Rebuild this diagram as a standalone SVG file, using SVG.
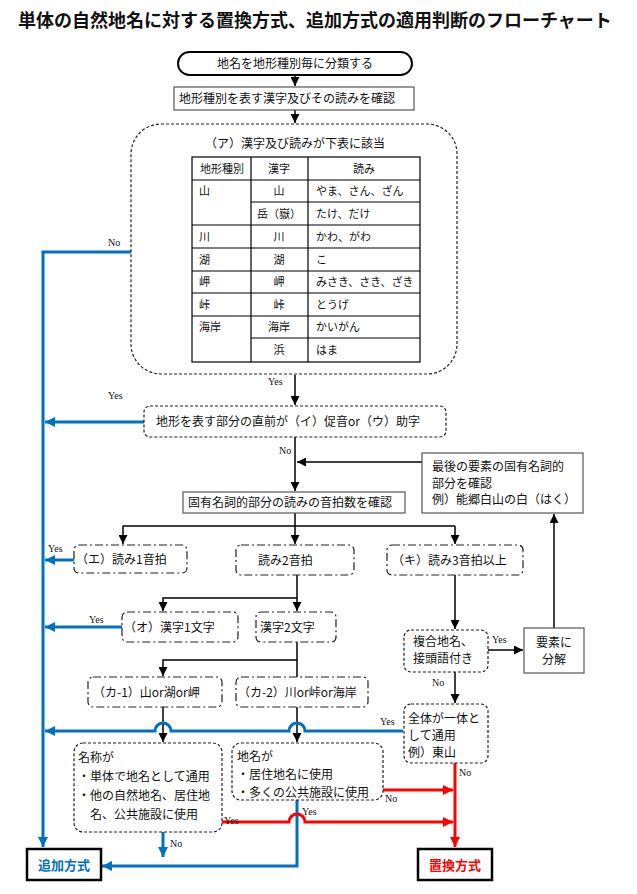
<svg xmlns="http://www.w3.org/2000/svg" width="637" height="894" viewBox="0 0 637 894">
<defs>
<style>
text{font-family:"Noto Sans CJK JP","Liberation Sans",sans-serif;fill:#111;}
.t{font-size:12px;}
.tb{font-size:11px;}
.lbl{font-family:"Liberation Serif",serif;font-size:10px;}
.title{font-size:18px;font-weight:bold;}
.box{fill:#fff;stroke:#555;stroke-width:1.2;}
.dash{fill:#fff;stroke:#222;stroke-width:1.2;stroke-dasharray:3,2;}
.dd{fill:#fff;stroke:#222;stroke-width:1.2;stroke-dasharray:8,3,2,3;}
.tbl{fill:none;stroke:#000;stroke-width:1.2;}
.k{fill:none;stroke:#000;stroke-width:1.5;}
.b{fill:none;stroke:#0070C0;stroke-width:3;}
.r{fill:none;stroke:#FF0000;stroke-width:3;}
.fin{fill:#fff;stroke:#000;stroke-width:2.5;}
</style>
<marker id="ak" viewBox="0 0 10 10" refX="10" refY="5" markerWidth="9" markerHeight="9" markerUnits="userSpaceOnUse" orient="auto"><path d="M0,0L10,5L0,10z" fill="#000"/></marker>
<marker id="ab" viewBox="0 0 10 10" refX="10" refY="5" markerWidth="10" markerHeight="10" markerUnits="userSpaceOnUse" orient="auto"><path d="M0,0L10,5L0,10z" fill="#0070C0"/></marker>
<marker id="ar" viewBox="0 0 10 10" refX="10" refY="5" markerWidth="10" markerHeight="10" markerUnits="userSpaceOnUse" orient="auto"><path d="M0,0L10,5L0,10z" fill="#FF0000"/></marker>
</defs>
<rect width="637" height="894" fill="#fff"/>
<text class="title" x="18" y="27">単体の自然地名に対する置換方式、追加方式の適用判断のフローチャート</text>

<g id="connectors">
<path class="k" d="M295,75V86" marker-end="url(#ak)"/>
<path class="k" d="M295,110V123" marker-end="url(#ak)"/>
<path class="k" d="M295,375V405" marker-end="url(#ak)"/>
<path class="k" d="M295,437V491" marker-end="url(#ak)"/>
<path class="k" d="M422,462H297" marker-end="url(#ak)"/>
<path class="k" d="M295,513V526"/>
<path class="k" d="M123,526H455"/>
<path class="k" d="M123,526V544" marker-end="url(#ak)"/>
<path class="k" d="M295,526V544" marker-end="url(#ak)"/>
<path class="k" d="M455,526V544" marker-end="url(#ak)"/>
<path class="k" d="M297,575V611" marker-end="url(#ak)"/>
<path class="k" d="M297,598H163V611" marker-end="url(#ak)"/>
<path class="k" d="M455,575V629" marker-end="url(#ak)"/>
<path class="k" d="M488,650H523" marker-end="url(#ak)"/>
<path class="k" d="M554,628V514" marker-end="url(#ak)"/>
<path class="k" d="M455,672V703" marker-end="url(#ak)"/>
<path class="k" d="M297,642V677"/>
<path class="k" d="M297,660H163V676" marker-end="url(#ak)"/>
<path class="k" d="M163,707V742" marker-end="url(#ak)"/>
<path class="k" d="M297,707V742" marker-end="url(#ak)"/>

<path class="b" d="M131,252H43V847" marker-end="url(#ab)"/>
<path class="b" d="M144,422H45" marker-end="url(#ab)"/>
<path class="b" d="M74,560H45" marker-end="url(#ab)"/>
<path class="b" d="M122,627H45" marker-end="url(#ab)"/>
<path class="b" d="M403,731H305A8,8 0 0 0 289,731H171A8,8 0 0 0 155,731H45" marker-end="url(#ab)"/>
<path class="b" d="M163,832V857" marker-end="url(#ab)"/>
<path class="b" d="M297,800V866H102" marker-end="url(#ab)"/>

<path class="r" d="M383,790H453" marker-end="url(#ar)"/>
<path class="r" d="M222,822H289A8,8 0 0 1 305,822H453" marker-end="url(#ar)"/>
<path class="r" d="M455,763V847" marker-end="url(#ar)"/>

<text class="lbl" x="108" y="246">No</text>
<text class="lbl" x="268" y="385">Yes</text>
<text class="lbl" x="108" y="399">Yes</text>
<text class="lbl" x="279" y="454">No</text>
<text class="lbl" x="48" y="552">Yes</text>
<text class="lbl" x="89" y="623">Yes</text>
<text class="lbl" x="492" y="643">Yes</text>
<text class="lbl" x="432" y="686">No</text>
<text class="lbl" x="380" y="725">Yes</text>
<text class="lbl" x="459" y="776">No</text>
<text class="lbl" x="385" y="802">No</text>
<text class="lbl" x="224" y="824">Yes</text>
<text class="lbl" x="302" y="815">Yes</text>
<text class="lbl" x="170" y="847">No</text>
</g>

<g id="start">
<rect x="178" y="52" width="234" height="23" rx="11.5" fill="#fff" stroke="#000" stroke-width="2"/>
<text class="t" x="295" y="68" text-anchor="middle">地名を地形種別毎に分類する</text>
</g>
<g id="check-kanji">
<rect class="box" x="174" y="87" width="240" height="23"/>
<text class="t" x="179" y="103">地形種別を表す漢字及びその読みを確認</text>
</g>
<g id="a-table">
<rect class="dash" x="131" y="124" width="326" height="250" rx="30"/>
<text class="t" x="295" y="148" text-anchor="middle">（ア）漢字及び読みが下表に該当</text>
<rect class="tbl" x="192" y="157" width="228" height="205"/>
<path class="tbl" d="M251,157V362M308,157V362M192,180H420M251,202H420M192,225H420M192,248H420M192,271H420M192,293H420M192,316H420M251,338H420"/>
<g class="tb">
<text x="200" y="173">地形種別</text><text x="279" y="173" text-anchor="middle">漢字</text><text x="364" y="173" text-anchor="middle">読み</text>
<text x="199" y="195">山</text><text x="279" y="195" text-anchor="middle">山</text><text x="316" y="195">やま、さん、ざん</text>
<text x="279" y="218" text-anchor="middle">岳（嶽）</text><text x="316" y="218">たけ、だけ</text>
<text x="199" y="241">川</text><text x="279" y="241" text-anchor="middle">川</text><text x="316" y="241">かわ、がわ</text>
<text x="199" y="264">湖</text><text x="279" y="264" text-anchor="middle">湖</text><text x="316" y="264">こ</text>
<text x="199" y="286">岬</text><text x="279" y="286" text-anchor="middle">岬</text><text x="316" y="286">みさき、さき、ざき</text>
<text x="199" y="309">峠</text><text x="279" y="309" text-anchor="middle">峠</text><text x="316" y="309">とうげ</text>
<text x="199" y="331">海岸</text><text x="279" y="331" text-anchor="middle">海岸</text><text x="316" y="331">かいがん</text>
<text x="279" y="354" text-anchor="middle">浜</text><text x="316" y="354">はま</text>
</g>
</g>
<g id="iu">
<rect class="dash" x="144" y="406" width="302" height="31" rx="6"/>
<text class="t" x="156" y="426">地形を表す部分の直前が（イ）促音or（ウ）助字</text>
</g>
<g id="last-element">
<rect class="box" x="422" y="453" width="161" height="60"/>
<text class="t" x="432" y="471">最後の要素の固有名詞的</text>
<text class="t" x="432" y="488">部分を確認</text>
<text class="t" x="432" y="504">例）能郷白山の白（はく）</text>
</g>
<g id="mora">
<rect class="box" x="183" y="492" width="222" height="21"/>
<text class="t" x="188" y="507">固有名詞的部分の読みの音拍数を確認</text>
</g>
<g id="e">
<rect class="dd" x="74" y="545" width="113" height="28" rx="5"/>
<text class="t" x="76" y="564">（エ）読み1音拍</text>
</g>
<g id="mora2">
<rect class="dd" x="236" y="545" width="118" height="30" rx="5"/>
<text class="t" x="258" y="565">読み2音拍</text>
</g>
<g id="ki">
<rect class="dd" x="387" y="545" width="136" height="30" rx="5"/>
<text class="t" x="392" y="565">（キ）読み3音拍以上</text>
</g>
<g id="o">
<rect class="dd" x="122" y="612" width="116" height="30" rx="5"/>
<text class="t" x="124" y="632">（オ）漢字1文字</text>
</g>
<g id="kanji2">
<rect class="dd" x="256" y="612" width="80" height="30" rx="5"/>
<text class="t" x="260" y="632">漢字2文字</text>
</g>
<g id="compound">
<rect class="dash" x="404" y="630" width="84" height="42" rx="7"/>
<text class="t" x="413" y="646">複合地名、</text>
<text class="t" x="413" y="663">接頭語付き</text>
</g>
<g id="decompose">
<rect class="box" x="524" y="628" width="60" height="45"/>
<text class="t" x="554" y="647" text-anchor="middle">要素に</text>
<text class="t" x="554" y="664" text-anchor="middle">分解</text>
</g>
<g id="ka1">
<rect class="dd" x="88" y="677" width="134" height="30" rx="5"/>
<text class="t" x="93" y="697">（カ-1）山or湖or岬</text>
</g>
<g id="ka2">
<rect class="dd" x="236" y="677" width="132" height="30" rx="5"/>
<text class="t" x="238" y="697">（カ-2）川or峠or海岸</text>
</g>
<g id="whole">
<rect class="dash" x="404" y="704" width="84" height="59" rx="7"/>
<text class="t" x="408" y="723">全体が一体と</text>
<text class="t" x="408" y="740">して通用</text>
<text class="t" x="408" y="757">例）東山</text>
</g>
<g id="meisho">
<rect class="dash" x="74" y="743" width="148" height="89" rx="9"/>
<text class="t" x="78" y="762">名称が</text>
<text class="t" x="78" y="781">・単体で地名として通用</text>
<text class="t" x="78" y="800">・他の自然地名、居住地</text>
<text class="t" x="90" y="819">名、公共施設に使用</text>
</g>
<g id="chimei">
<rect class="dash" x="232" y="743" width="151" height="57" rx="9"/>
<text class="t" x="237" y="761">地名が</text>
<text class="t" x="237" y="779">・居住地名に使用</text>
<text class="t" x="237" y="797">・多くの公共施設に使用</text>
</g>
<g id="tsuika">
<rect class="fin" x="27" y="849" width="74" height="31"/>
<text x="64" y="870" text-anchor="middle" style="font-size:13px;font-weight:bold;fill:#0070C0">追加方式</text>
</g>
<g id="chikan">
<rect class="fin" x="418" y="849" width="74" height="31"/>
<text x="455" y="870" text-anchor="middle" style="font-size:13px;font-weight:bold;fill:#FF0000">置換方式</text>
</g>
</svg>
